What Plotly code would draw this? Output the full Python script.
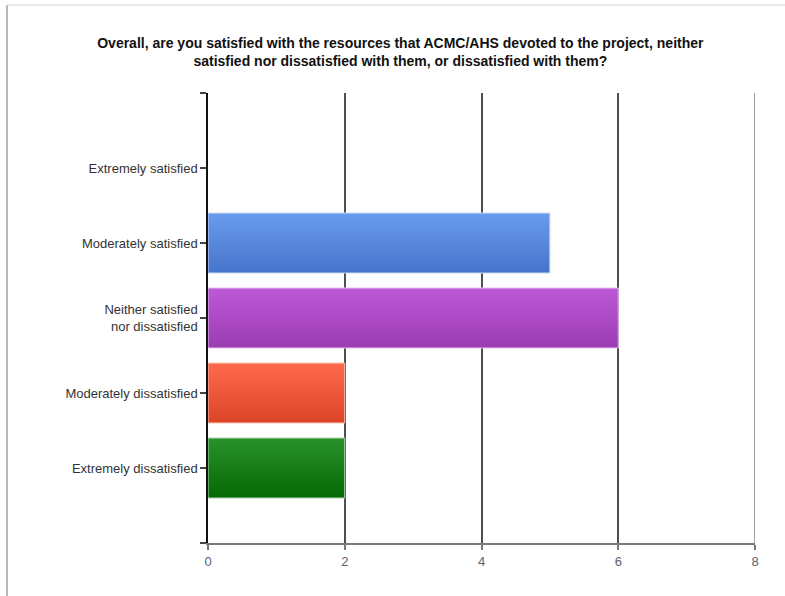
import plotly.graph_objects as go

# Survey responses (count of respondents per answer)
categories = [
    "Extremely satisfied",
    "Moderately satisfied",
    "Neither satisfied<br>nor dissatisfied",
    "Moderately dissatisfied",
    "Extremely dissatisfied",
]
counts = [0, 5, 6, 2, 2]

# Gradient colours per bar (top shade, bottom shade)
top_colors = ["#7aa7f0", "#6a9bec", "#bd58d8", "#ff6a4d", "#2a922a"]
bottom_colors = ["#4a7fd6", "#4674cc", "#9b3cb2", "#dc4426", "#056805"]
edge_colors = ["#c9dbf7", "#c9dbf7", "#e4c3ee", "#f7c7bc", "#b6d8b6"]

x_ticks = [0, 2, 4, 6, 8]
title_text = ("Overall, are you satisfied with the resources that ACMC/AHS devoted to the project, neither"
              "<br>satisfied nor dissatisfied with them, or dissatisfied with them?")

W, H = 785, 596
ML, MR, MT, MB = 208, 30, 93, 53
half = 0.4

fig = go.Figure()

for i, (cat, v) in enumerate(zip(categories, counts)):
    if v <= 0:
        continue
    fig.add_trace(go.Scatter(
        x=[0, v, v, 0, 0],
        y=[i - half, i - half, i + half, i + half, i - half],
        mode="lines",
        fill="toself",
        line=dict(color=edge_colors[i], width=1),
        fillgradient=dict(
            type="vertical",
            start=i - half,
            stop=i + half,
            colorscale=[[0, top_colors[i]], [1, bottom_colors[i]]],
        ),
        hoverinfo="skip",
        showlegend=False,
    ))

n = len(categories)
fig.update_layout(
    width=W, height=H,
    margin=dict(l=ML, r=MR, t=MT, b=MB),
    paper_bgcolor="white",
    plot_bgcolor="white",
    font=dict(family="Liberation Sans, Arial, sans-serif", size=13, color="#333333"),
    title=dict(
        text=title_text,
        x=0.51, xanchor="center", xref="container",
        y=1 - 48 / H, yanchor="middle", yref="container",
        font=dict(size=14, color="#111111", family="Liberation Sans, Arial, sans-serif", weight="bold"),
    ),
    xaxis=dict(
        range=[0, 8],
        tickvals=x_ticks,
        ticks="outside", ticklen=5, tickwidth=1.5, tickcolor="#777777",
        showgrid=True, gridcolor="#4f4f4f", gridwidth=1.6,
        showline=True, linecolor="#7a7a7a", linewidth=2,
        zeroline=False,
        tickfont=dict(size=13, color="#5a6270"),
        fixedrange=True,
    ),
    yaxis=dict(
        range=[n, -1],
        tickvals=list(range(-1, n + 1)),
        ticktext=[""] + categories + [""],
        ticks="outside", ticklen=6, tickwidth=1.5, tickcolor="#444444",
        showgrid=False,
        showline=True, linecolor="#111111", linewidth=1.5,
        zeroline=False,
        tickfont=dict(size=13, color="#333333"),
        fixedrange=True,
    ),
)

# Page frame along the left and top edges
pw, ph = W - ML - MR, H - MT - MB
def px_x(p):
    return (p - ML) / pw
def px_y(p):
    return (H - MB - p) / ph

fig.add_shape(type="line", xref="paper", yref="paper",
              x0=px_x(7), x1=px_x(7), y0=px_y(5), y1=px_y(H),
              line=dict(color="#b8b8b8", width=2))
fig.add_shape(type="line", xref="paper", yref="paper",
              x0=px_x(7), x1=px_x(W), y0=px_y(5), y1=px_y(5),
              line=dict(color="#e2e2e2", width=1.5))
# Lighter rule at the far right end of the value axis
fig.add_shape(type="line", xref="x", yref="paper",
              x0=x_ticks[-1], x1=x_ticks[-1], y0=0, y1=1,
              line=dict(color="#8a8a8a", width=1.6), layer="above")

fig.write_html("out.html")
